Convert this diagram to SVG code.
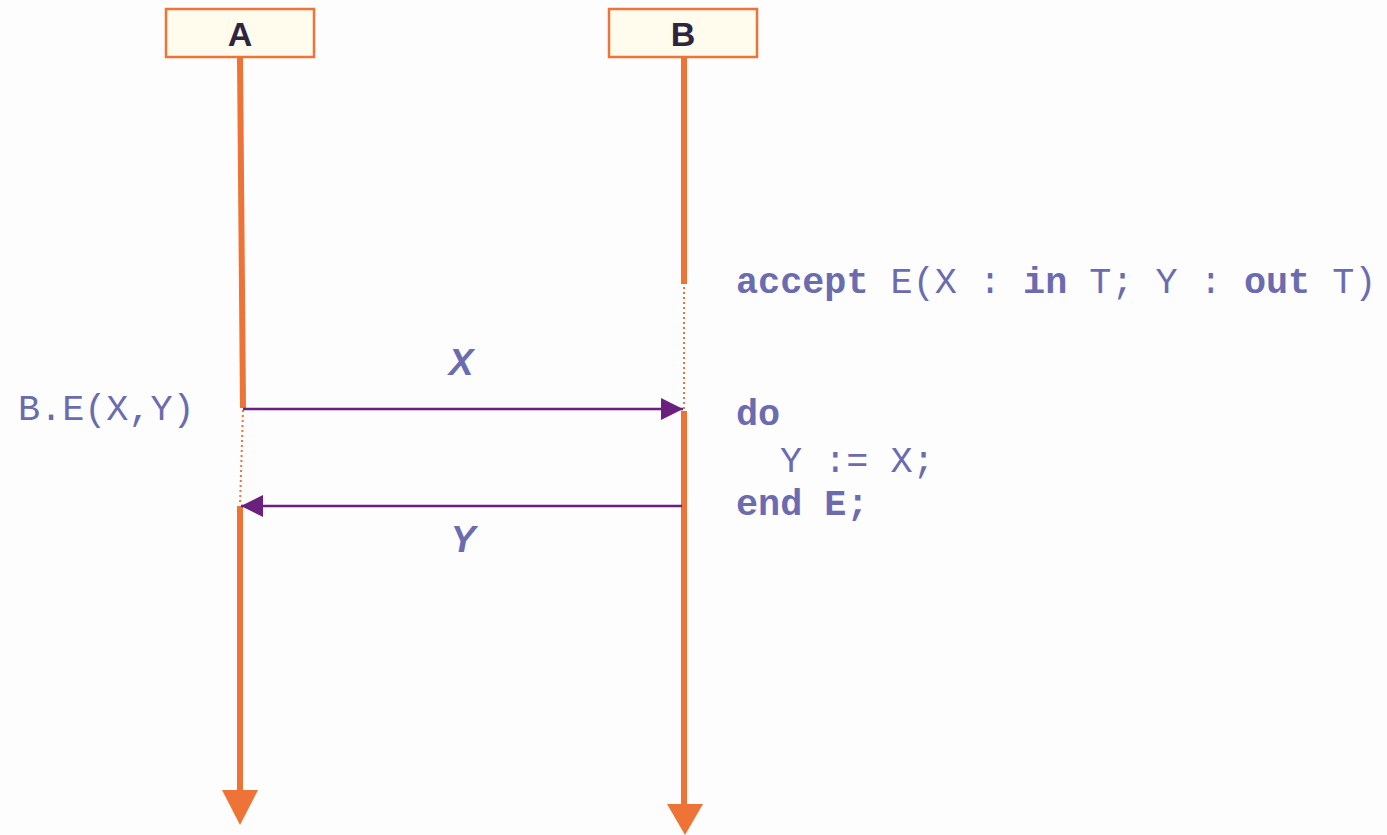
<svg xmlns="http://www.w3.org/2000/svg" width="1387" height="835" viewBox="0 0 1387 835">
<style>
.box{fill:#fffcee;stroke:#ed7336;stroke-width:2.5}
.lbl{font-family:"Liberation Sans",Arial,sans-serif;font-weight:bold;font-size:34px;fill:#2e2640;text-anchor:middle}
.life{stroke:#ed7336;stroke-width:6;fill:none}
.dot{stroke:#ed7336;stroke-width:2;stroke-dasharray:2,3;fill:none}
.msg{stroke:#6b1f7f;stroke-width:2.5;fill:none}
.code{font-family:"Liberation Mono","Courier New",monospace;font-size:36.8px;fill:#6b6bb0;white-space:pre}
.kw{font-weight:bold}
.ml{font-family:"Liberation Sans",Arial,sans-serif;font-weight:bold;font-style:italic;font-size:37px;fill:#6b6bb0;text-anchor:middle}
</style>
<defs>
<marker id="ah" viewBox="0 0 10 10" refX="10" refY="5" markerWidth="22" markerHeight="22" markerUnits="userSpaceOnUse" orient="auto">
<path d="M0,0 L10,5 L0,10 z" fill="#6b1f7f"/>
</marker>
</defs>
<rect width="1387" height="835" fill="#fdfdfd"/>
<g id="A">
<rect class="box" x="166" y="9" width="148" height="48"/>
<text class="lbl" x="240" y="46">A</text>
</g>
<g id="B">
<rect class="box" x="609" y="9" width="148" height="48"/>
<text class="lbl" x="683" y="46">B</text>
</g>
<g id="lifelines">
<line class="life" x1="240" y1="58" x2="243" y2="408"/>
<line class="dot" x1="243" y1="410" x2="240" y2="505"/>
<line class="life" x1="240" y1="506" x2="240" y2="792"/>
<polygon points="222,790 258,790 240,825" fill="#ed7336"/>
<line class="life" x1="684" y1="58" x2="684" y2="284"/>
<line class="dot" x1="684" y1="287" x2="684" y2="409"/>
<line class="life" x1="684" y1="411" x2="684" y2="806"/>
<polygon points="667,804 703,804 685,835" fill="#ed7336"/>
</g>
<g id="connectors">
<line class="msg" x1="243" y1="409" x2="683" y2="409" marker-end="url(#ah)"/>
<line class="msg" x1="682" y1="506" x2="241" y2="506" marker-end="url(#ah)"/>
</g>
<text class="ml" x="461" y="375">X</text>
<text class="ml" x="463" y="552">Y</text>
<text class="code" x="18" y="420">B.E(X,Y)</text>
<text class="code" x="736" y="293"><tspan class="kw">accept</tspan> E(X : <tspan class="kw">in</tspan> T; Y : <tspan class="kw">out</tspan> T)</text>
<text class="code kw" x="736" y="425">do</text>
<text class="code" x="780" y="472">Y := X;</text>
<text class="code kw" x="736" y="515">end E;</text>
</svg>
